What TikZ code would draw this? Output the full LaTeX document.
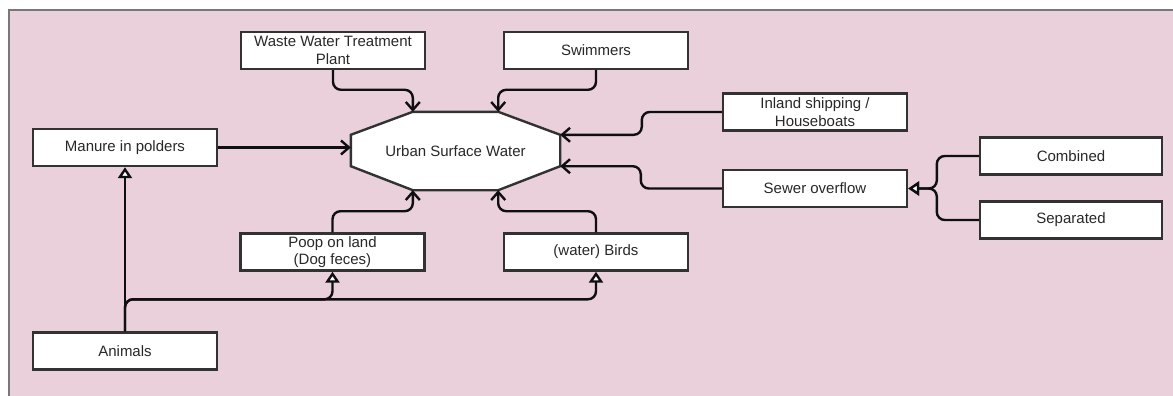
\documentclass[tikz,border=0pt]{standalone}
\usepackage{fontspec}
\setmainfont{Liberation Sans}
\usetikzlibrary{arrows.meta,calc}
\definecolor{bgpink}{RGB}{233,208,219}
\definecolor{framegray}{RGB}{120,120,120}
\definecolor{boxline}{RGB}{50,50,50}
\definecolor{txt}{RGB}{40,40,40}
\definecolor{conn}{RGB}{15,15,15}
\tikzset{
  box/.style={draw=boxline, fill=white, line width=2.4pt, minimum width=184pt,
    minimum height=37pt, inner sep=2pt, align=center, text=txt,
    font=\fontsize{15}{17.5}\selectfont},
  link/.style={draw=conn, line width=2.4pt, rounded corners=8pt},
  into/.style={link, -{Straight Barb[length=8pt,width=14pt]}},
  isa/.style={link, -{Triangle[length=11pt,width=14pt,fill=white]}}
}
\begin{document}
\begin{tikzpicture}[x=1pt,y=-1pt]
\useasboundingbox (0,0) rectangle (1173,396);
\clip (0,0) rectangle (1173,396);
\fill[white] (0,0) rectangle (1173,396);
\draw[framegray, fill=bgpink, line width=1.4pt] (9,10) rectangle (1190,410);

% nodes
\node[box] (wwtp) at (333,50.5) {Waste Water Treatment\\Plant};
\node[box] (swim) at (596,50.5) {Swimmers};
\node[box] (manure) at (125,147.5) {Manure in polders};
\node[box] (inland) at (815,112) {Inland shipping /\\Houseboats};
\node[box] (sewer) at (815,188.5) {Sewer overflow};
\node[box, minimum width=182pt] (combined) at (1071,156) {Combined};
\node[box, minimum width=182pt] (separated) at (1071,220) {Separated};
\node[box] (poop) at (332.5,252) {Poop on land\\(Dog feces)};
\node[box] (birds) at (596,252) {(water) Birds};
\node[box] (animals) at (125,351) {Animals};

% octagon
\node[minimum width=209pt, minimum height=78pt, inner sep=0pt] (usw) at (455.5,151) {};
\coordinate (ot1) at ($(usw.north west)+(62,0)$);
\coordinate (ot2) at ($(usw.north east)+(-62,0)$);
\coordinate (or1) at ($(usw.north east)+(0,23)$);
\coordinate (or2) at ($(usw.south east)+(0,-24)$);
\coordinate (ob2) at ($(usw.south east)+(-62,0)$);
\coordinate (ob1) at ($(usw.south west)+(62,0)$);
\coordinate (ol2) at ($(usw.south west)+(0,-24)$);
\coordinate (ol1) at ($(usw.north west)+(0,23)$);
\filldraw[draw=boxline, fill=white, line width=2.4pt, line join=miter]
  (ot1) -- (ot2) -- (or1) -- (or2) -- (ob2) -- (ob1) -- (ol2) -- (ol1) -- cycle;
\node[text=txt, font=\fontsize{15}{17.5}\selectfont] (uswlabel) at (usw) {Urban Surface Water};

% connectors into the octagon
\draw[into] (wwtp.south) |- ($(ot1)+(0,-22)$) -- (ot1);
\draw[into] (swim.south) |- ($(ot2)+(0,-22)$) -- (ot2);
\draw[into] (manure.east) -- (manure.east -| usw.west);
\draw[into] (inland.west) -- ++(-80,0) |- (or1);
\draw[into] (sewer.west) -- ++(-81,0) |- (or2);
\draw[into] (poop.north) |- ($(ob1)+(0,21)$) -- (ob1);
\draw[into] (birds.north) |- ($(ob2)+(0,21)$) -- (ob2);

% generalisation connectors
\draw[isa] (combined.west) -- ++(-42,0) |- (sewer.east);
\draw[isa] (separated.west) -- ++(-42,0) |- (sewer.east);
\draw[isa] (animals.north) -- (animals.north |- manure.south);
\draw[isa] (animals.north) -- ++(0,-32) -| (poop.south);
\draw[isa] (animals.north) -- ++(0,-32) -| (birds.south);
\end{tikzpicture}
\end{document}
